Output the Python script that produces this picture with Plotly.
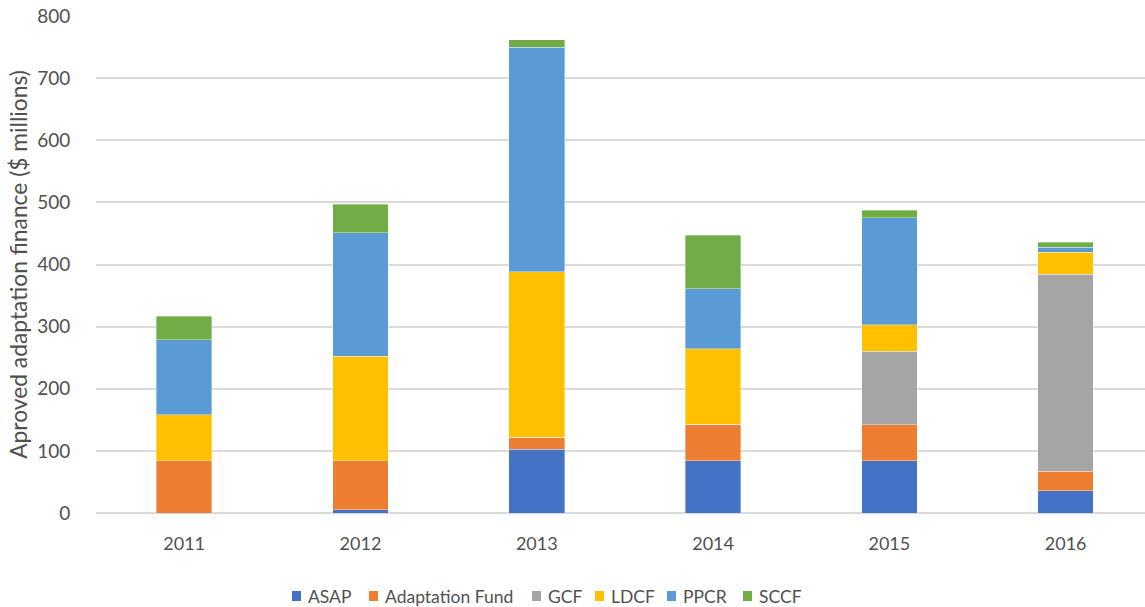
import plotly.graph_objects as go

# Approved adaptation finance by fund, $ millions
years = ["2011", "2012", "2013", "2014", "2015", "2016"]
asap = [0, 5, 103, 84, 84, 36]
adaptation_fund = [84, 79, 19, 59, 58, 31]
gcf = [0, 0, 0, 0, 118, 317]
ldcf = [74, 168, 266, 121, 43, 36]
ppcr = [121, 199, 362, 97, 172, 8]
sccf = [38, 46, 12, 86, 12, 8]

y_ticks = [0, 100, 200, 300, 400, 500, 600, 700, 800]

series = [
    ("ASAP", asap, "#4472C4"),
    ("Adaptation Fund", adaptation_fund, "#ED7D31"),
    ("GCF", gcf, "#A5A5A5"),
    ("LDCF", ldcf, "#FFC000"),
    ("PPCR", ppcr, "#5B9BD5"),
    ("SCCF", sccf, "#70AD47"),
]

FONT = "Lato"
TEXT = "#505050"
W, H = 1145, 607
M_L, M_R, M_T, M_B = 96, 0, 16, 94
PLOT_W = W - M_L - M_R
PLOT_H = H - M_T - M_B

# compact legend row: left edge (px) of each swatch
legend_px = [292, 369, 532, 595, 667, 743]
legend_y_px = 596

fig = go.Figure()
for name, vals, color in series:
    fig.add_trace(go.Bar(
        name=name, x=years, y=vals, showlegend=False,
        marker=dict(color=color, line=dict(color="rgba(255,255,255,0.6)", width=0.6)),
    ))

legend_y = (H - M_B - legend_y_px) / PLOT_H
for (name, _, color), px in zip(series, legend_px):
    xa = (px - M_L) / PLOT_W
    fig.add_shape(
        type="rect", xref="paper", yref="paper",
        xsizemode="pixel", ysizemode="pixel",
        xanchor=xa, yanchor=legend_y,
        x0=0, x1=9, y0=-5, y1=5,
        fillcolor=color, line=dict(width=0),
    )
    fig.add_annotation(
        xref="paper", yref="paper", x=xa, y=legend_y,
        xshift=14, xanchor="left", yanchor="middle",
        text=name, showarrow=False,
        font=dict(family=FONT, size=17.5, color=TEXT),
    )

fig.update_layout(
    barmode="stack",
    bargap=0.685,
    width=W, height=H,
    margin=dict(l=M_L, r=M_R, t=M_T, b=M_B, autoexpand=False),
    paper_bgcolor="white", plot_bgcolor="white",
    font=dict(family=FONT, color=TEXT, size=18),
    showlegend=False,
    xaxis=dict(
        type="category", range=[-0.5, 5.45],
        showline=False, showgrid=False,
        ticks="outside", ticklen=14, tickcolor="rgba(0,0,0,0)",
        tickfont=dict(size=18, color=TEXT),
    ),
    yaxis=dict(
        range=[0, 800], tickvals=y_ticks,
        showgrid=True, gridcolor="#D9D9D9", gridwidth=1.5,
        zeroline=True, zerolinecolor="#D9D9D9", zerolinewidth=1.5,
        ticks="outside", ticklen=21, tickcolor="rgba(0,0,0,0)",
        tickfont=dict(size=19, color=TEXT),
        title=dict(text="Aproved adaptation finance ($ millions)",
                   font=dict(size=22.8, color=TEXT), standoff=3),
    ),
)

fig.write_html("out.html")
